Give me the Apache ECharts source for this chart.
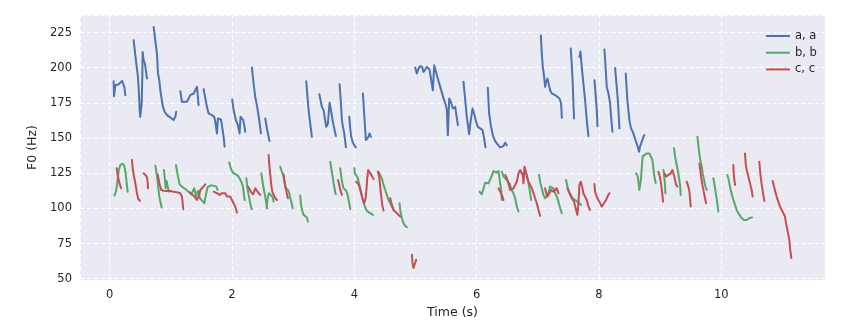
<!DOCTYPE html>
<html><head><meta charset="utf-8">
<script src="https://cdn.jsdelivr.net/npm/echarts@6/dist/echarts.min.js"></script>
<style>html,body{margin:0;padding:0;background:#fff}#c{width:844px;height:325px}</style>
</head><body><div id="c"></div>
<script>
// Speaker "a, a" pitch track segments: [time (s), F0 (Hz)]
const aSegs = [
[[0.065,190.4],[0.071,179.8],[0.093,187.6],[0.12,186.4],[0.148,188.3],[0.175,186.9],[0.202,190.7],[0.218,191.6],[0.24,186.4],[0.257,180.5]],
[[0.392,219.5],[0.436,203],[0.463,193.5],[0.479,181.7],[0.49,169.9],[0.5,165.1],[0.512,166.3],[0.523,174.6],[0.534,193.5],[0.539,211.2],[0.556,205.3],[0.577,203],[0.61,192.3]],
[[0.719,229],[0.746,219.5],[0.773,210],[0.79,195.9],[0.812,191.1],[0.828,184],[0.844,179.3],[0.871,172.2],[0.899,168.7],[0.937,166.3],[0.991,164.7],[1.02,163.9],[1.046,162.8],[1.057,161.6],[1.073,165.1],[1.089,168.7]],
[[1.155,183.3],[1.182,175.8],[1.209,174.6],[1.264,175.8],[1.318,180.5],[1.345,179.8],[1.373,181.7],[1.4,184],[1.427,186.4],[1.443,185.9],[1.454,173.4]],
[[1.536,184.8],[1.59,172.2],[1.618,167.5],[1.672,166.3],[1.71,165.1],[1.727,161.6],[1.754,153.3],[1.77,163.9],[1.797,162.8],[1.819,163.2],[1.835,159.2],[1.863,150.9],[1.879,143.9]],
[[2.004,177.4],[2.026,169.9],[2.064,162.8],[2.097,159.2],[2.124,153.3],[2.14,165.1],[2.162,166.3],[2.184,162.8],[2.2,159.2],[2.217,154.5]],
[[2.326,200.1],[2.353,188.8],[2.38,179.3],[2.407,173.4],[2.424,172.2],[2.446,162.8],[2.473,153.3]],
[[2.544,163.9],[2.571,156.9],[2.598,150.9],[2.614,147.9]],
[[3.214,190.4],[3.252,169.9],[3.306,150.9]],
[[3.427,181.2],[3.47,172.2],[3.497,169.9],[3.541,158],[3.568,160.4],[3.595,175.1],[3.623,168.7],[3.644,162.8],[3.66,159.2],[3.699,151.4]],
[[3.759,188.3],[3.781,174.6],[3.797,162.8],[3.814,158],[3.835,153.3],[3.852,147.4],[3.862,143.4]],
[[3.917,165.1],[3.933,156.9],[3.949,150.9],[3.971,147.4],[3.998,145],[4.025,143.4]],
[[4.14,181.7],[4.161,167.5],[4.189,148.6],[4.205,147.4],[4.232,150.9],[4.249,153.3],[4.271,150.9]],
[[4.995,200.1],[5.022,195.9],[5.049,199.4],[5.076,201.2],[5.109,200.6],[5.131,197],[5.158,198.7],[5.185,200.6],[5.229,198.7],[5.257,200.1],[5.284,184],[5.306,201.7],[5.35,194.7],[5.404,186.4],[5.459,178.2],[5.497,173.4],[5.513,169.9],[5.529,152.1],[5.551,178.2],[5.578,175.8],[5.611,171],[5.649,172.2],[5.676,171],[5.693,159.2]],
[[5.785,190],[5.839,165.1],[5.877,152.8],[5.904,162.8],[5.932,171],[5.959,167.5],[5.991,161.6],[6.019,158],[6.057,156.9],[6.095,155.7],[6.122,149.8],[6.144,143.4]],
[[6.182,185.7],[6.204,167.5],[6.231,159.2],[6.264,152.1],[6.302,147.9],[6.34,145.7],[6.384,143.4],[6.411,142],[6.438,144.3],[6.465,146.7],[6.492,145]],
[[7.05,223],[7.065,210],[7.081,200.6],[7.103,193.5],[7.12,186.4],[7.136,190],[7.158,192.3],[7.174,191.1],[7.201,184],[7.229,181.7],[7.256,180.5],[7.31,179.8],[7.354,178.1],[7.381,174.6],[7.392,164.4]],
[[7.538,213.6],[7.554,203],[7.571,188.8],[7.582,174.6],[7.593,163.9]],
[[7.68,207.7],[7.697,211.5],[7.718,200.6],[7.745,188.8],[7.773,176.9],[7.8,162.8],[7.828,151.4]],
[[7.926,191.1],[7.948,179.3],[7.964,169.9],[7.975,158.5]],
[[8.089,212.9],[8.111,198.2],[8.127,186.4],[8.155,181.7],[8.182,174.6],[8.198,165.1],[8.22,154.5]],
[[8.263,199.9],[8.29,186.4],[8.312,174.6],[8.334,156.9]],
[[8.437,195.9],[8.464,176.9],[8.497,162.8],[8.524,156.9],[8.552,154.5],[8.579,150.9],[8.606,147.4],[8.633,143.9],[8.655,140.3],[8.671,143.9],[8.699,147.4],[8.726,150.9],[8.742,152.1]]
];
// Speaker "b, b"
const bSegs = [
[[0.077,109.1],[0.104,111.9],[0.126,119],[0.148,127.3],[0.175,130.9],[0.213,131.8],[0.24,130.1],[0.262,125],[0.278,117.9],[0.295,111.9]],
[[0.747,130.4],[0.763,126.1],[0.779,121.4],[0.796,114.3],[0.812,108.4],[0.834,103.7],[0.85,100.6]],
[[0.888,127.3],[0.905,120.2],[0.915,114.3],[0.932,119.5],[0.948,115.5],[0.97,111.9]],
[[1.084,130.9],[1.117,122.7],[1.144,117.1],[1.182,115.5],[1.237,113.8],[1.291,111.9],[1.335,110],[1.362,109.1],[1.384,114.3],[1.411,108.4],[1.444,112.4],[1.477,107.2],[1.509,105.8],[1.547,103.7],[1.575,110],[1.602,115.2],[1.645,116.2],[1.684,116.2],[1.716,117.1],[1.743,115.5],[1.765,113.1]],
[[1.956,132.7],[1.972,129.6],[1.999,126.6],[2.027,124.9],[2.065,124.2],[2.109,122.6],[2.136,121.4],[2.163,117.9],[2.179,115.5],[2.196,109.6],[2.207,106]],
[[2.234,121.4],[2.25,115.5],[2.272,109.6],[2.293,104.8],[2.315,100.1],[2.326,99.5]],
[[2.479,124.9],[2.495,120.2],[2.517,114.3],[2.544,108.4],[2.56,103.7],[2.577,100.1]],
[[2.566,100.1],[2.582,107.2],[2.604,110.8],[2.632,111.5],[2.659,108.4],[2.681,104.8]],
[[2.789,129.6],[2.806,127.3],[2.827,126.1],[2.844,122.6],[2.86,117.9],[2.882,114.3],[2.898,115],[2.915,113.1],[2.937,110.8],[2.953,107.2],[2.975,103.7],[2.991,100.1]],
[[3.116,109.1],[3.126,103.7],[3.143,98.9],[3.171,95.4],[3.198,94.2],[3.225,93.5],[3.241,90.7]],
[[3.606,133.2],[3.623,128.5],[3.645,122.6],[3.661,117.9],[3.677,114.3],[3.688,110.8],[3.699,110.1]],
[[3.77,128.5],[3.786,122.6],[3.803,117.9],[3.824,114.3],[3.851,115.5],[3.868,112.5],[3.89,109.6],[3.906,106],[3.922,102.5],[3.933,99.6]],
[[4.0,128.5],[4.009,124.9],[4.031,126.1],[4.053,122.1],[4.075,117.9],[4.097,114.3],[4.118,110],[4.14,106],[4.162,102.5],[4.184,100.1],[4.206,98.2],[4.233,97.3],[4.26,96.6],[4.287,95.9],[4.304,95.4]],
[[4.396,126.1],[4.423,124.9],[4.45,121.2],[4.478,116.7],[4.505,113.1],[4.532,109.6],[4.559,106],[4.586,103.7],[4.614,101.3],[4.65,98.5]],
[[4.739,103.7],[4.75,98.9],[4.777,93],[4.804,89.5],[4.832,87.6],[4.859,86.6]],
[[6.046,111.9],[6.084,110],[6.139,118.3],[6.193,117.8],[6.248,123.1],[6.275,126.6],[6.319,125.4],[6.357,126.6],[6.384,126.1],[6.4,113.1],[6.411,106]],
[[6.411,126.1],[6.439,122.6],[6.493,120.2],[6.536,117.8],[6.574,113.1],[6.601,110.8],[6.629,107.2],[6.656,101.3],[6.683,97.8]],
[[6.82,124],[6.847,118],[6.874,111],[6.89,106]],
[[7.021,123.8],[7.037,119],[7.065,114.3],[7.092,109.6],[7.119,107.2],[7.147,106],[7.174,110.8],[7.201,115.5],[7.228,116.7],[7.256,114.3],[7.283,110.8],[7.31,108.4],[7.337,104.8],[7.365,100.1],[7.392,96.6]],
[[7.462,120.2],[7.484,115.5],[7.511,111.9],[7.539,109.6],[7.571,107.2],[7.609,106],[7.647,104.8],[7.68,103.7],[7.708,102.5]],
[[8.606,124.9],[8.634,122.6],[8.66,113.1],[8.677,114.3],[8.688,121.4],[8.699,129],[8.715,137],[8.737,138.4],[8.781,139.1],[8.824,139.1],[8.852,137.9],[8.874,134.4],[8.89,128.5],[8.901,123.8],[8.917,120.2],[8.928,118]],
[[9.053,127.3],[9.064,123.8],[9.075,119],[9.086,110.8]],
[[9.227,142.7],[9.244,136.8],[9.26,133.2],[9.276,129.7],[9.287,127.3],[9.309,121.4],[9.325,116.7],[9.336,109.6]],
[[9.61,151],[9.625,145],[9.636,140.3],[9.652,135.6],[9.68,129.7],[9.696,124.9],[9.718,120.2],[9.74,115.5],[9.762,113.1]],
[[9.869,121.4],[9.885,117.8],[9.902,113.1],[9.918,108.4],[9.935,103.7],[9.951,97.8]],
[[10.098,123.8],[10.115,121.4],[10.131,117.8],[10.153,113.1],[10.175,109.6],[10.197,106],[10.224,102.5],[10.251,98.9],[10.279,96.6],[10.306,94.9],[10.333,93],[10.372,91.8],[10.415,91.8],[10.453,93],[10.481,94.2],[10.503,93.5]]
];
// Speaker "c, c"
const cSegs = [
[[0.115,128.5],[0.131,123.8],[0.148,120.2],[0.169,116.7],[0.186,114.3]],
[[0.365,134.4],[0.376,128.5],[0.398,122.6],[0.42,117.9],[0.442,111.9],[0.463,107.2],[0.496,105.3]],
[[0.556,125],[0.583,124.3],[0.605,122.7],[0.621,119],[0.627,114.3]],
[[0.785,124.2],[0.818,116.7],[0.845,113.1],[0.883,112.6],[0.937,112.4],[0.992,112.4],[1.046,111.9],[1.1,111.5],[1.155,110.8],[1.182,108.4],[1.204,99.4]],
[[1.308,111.5],[1.357,109.6],[1.4,107.7],[1.428,106],[1.466,109.6],[1.482,113.1],[1.509,114.3],[1.547,116.2],[1.564,117.1]],
[[1.699,111.9],[1.754,110.8],[1.797,109.6],[1.835,110.8],[1.89,110.8],[1.917,108.4],[1.944,109.6],[1.972,108.4],[1.999,106],[2.026,107.2],[2.053,101.3],[2.081,97]],
[[2.261,115.5],[2.288,113.6],[2.315,111.5],[2.345,110],[2.381,114.3],[2.408,113.1],[2.435,110.8],[2.463,109.6]],
[[2.599,137.9],[2.61,130.9],[2.626,123.8],[2.642,116.7],[2.659,111.9],[2.681,109.6],[2.708,107.2],[2.735,106]],
[[2.844,124.2],[2.855,120.2],[2.871,115.5],[2.887,113.1],[2.9,109.5],[2.914,107.2]],
[[3.731,120.2],[3.748,117.9],[3.764,114.3],[3.781,111.9],[3.797,109.6]],
[[4.031,119],[4.053,118.6],[4.075,116.7],[4.097,113.1],[4.118,109.6],[4.14,106],[4.162,103.7],[4.184,107.2],[4.2,114.3],[4.211,121.4],[4.227,127.3],[4.249,126.1],[4.271,124.2],[4.293,122.6],[4.315,120.9]],
[[4.385,126.1],[4.407,122.6],[4.423,115.5],[4.44,108.4],[4.461,101.3],[4.478,98.5]],
[[4.586,107.3],[4.614,102.5],[4.641,98.8],[4.668,97.8],[4.696,96.6],[4.723,96.1],[4.75,94.2]],
[[4.941,67],[4.952,61.1],[4.968,57.6],[4.99,60.7],[5.011,63.5]],
[[6.357,114.3],[6.384,113.1],[6.411,109.6],[6.439,106]],
[[6.466,123.8],[6.493,121.4],[6.52,117.8],[6.547,113.1],[6.574,111.9],[6.601,114.3],[6.629,115.5],[6.656,119],[6.683,124.9],[6.711,127.3],[6.738,128.5],[6.754,123.8],[6.765,117.8],[6.782,129.7],[6.798,127.3],[6.82,122.6],[6.847,119],[6.874,116.7],[6.901,114.3],[6.929,110.8],[6.956,107.2],[6.983,103.7],[7.01,99],[7.037,94.7]],
[[7.119,114.3],[7.136,110.8],[7.157,108.4],[7.19,110.8],[7.217,113.1],[7.256,111.9],[7.283,113.1],[7.31,114.3],[7.337,110.8]],
[[7.484,114.3],[7.517,110.8],[7.555,107.2],[7.593,104.8],[7.626,98.9],[7.648,95.4],[7.664,103.7],[7.68,116.7],[7.702,119],[7.724,115.5],[7.745,110.8],[7.773,109.6],[7.8,106],[7.827,101.3],[7.855,98.9]],
[[7.925,117.4],[7.936,111.9],[7.953,109.6],[7.975,107.2],[8.007,104.8],[8.045,101.3],[8.072,102.5],[8.116,106],[8.143,108.8],[8.17,110.8]],
[[8.971,126.1],[8.988,123.8],[9.009,119],[9.025,114.3],[9.036,109.6],[9.047,104.8]],
[[9.069,124.9],[9.096,122.6],[9.134,123.8],[9.173,124.9],[9.2,127.3],[9.216,126.1],[9.232,122.6],[9.26,116.7],[9.281,115.5]],
[[9.434,119],[9.461,115.5],[9.478,111.9],[9.489,107.2],[9.5,101.3]],
[[9.641,132],[9.652,128.5],[9.669,122.6],[9.691,116.7],[9.712,111.9],[9.734,107.2],[9.751,103.7]],
[[10.197,130.9],[10.202,124.9],[10.213,120.2],[10.224,116.7]],
[[10.387,139.1],[10.398,132],[10.415,127.3],[10.442,122.6],[10.469,117.8],[10.496,113.1],[10.513,108.4]],
[[10.621,133.2],[10.632,127.3],[10.649,120.2],[10.671,114.3],[10.687,109.6],[10.704,105.3]],
[[10.839,119.5],[10.861,115.5],[10.883,111.9],[10.904,108.4],[10.932,104.8],[10.959,101.3],[10.987,98.9],[11.014,96.6],[11.041,94.2],[11.057,89.5],[11.079,84.8],[11.096,81.2],[11.112,77.7],[11.123,71.8],[11.134,68.2],[11.145,64.7]]
];
const seriesNames = ['a, a', 'b, b', 'c, c'];
const seriesColors = ['#4C72B0', '#55A868', '#C44E52'];
const xRange = [-0.485, 11.695];
const yRange = [49.1, 237.5];

const chart = echarts.init(document.getElementById('c'), null, {renderer: 'canvas'});
const series = [];
[aSegs, bSegs, cSegs].forEach((segs, i) => {
  segs.forEach(seg => {
    series.push({
      type: 'line', name: seriesNames[i], data: seg,
      symbol: 'none', showSymbol: false, silent: true,
      lineStyle: {color: seriesColors[i], width: 2, cap: 'round', join: 'round'},
      itemStyle: {color: seriesColors[i]},
      z: 2 + i
    });
  });
});
const txt = '#262626';
const font = 'DejaVu Sans';
chart.setOption({
  animation: false,
  backgroundColor: '#ffffff',
  grid: {left: 80, top: 15, width: 745, height: 265, show: true, backgroundColor: '#EAEAF2', borderWidth: 0},
  legend: {
    data: seriesNames.map((n, i) => ({name: n, itemStyle: {color: seriesColors[i]}})),
    orient: 'vertical', left: 761, top: 25, icon: 'rect', itemWidth: 24, itemHeight: 2,
    itemGap: 4.7, selectedMode: false,
    textStyle: {fontFamily: font, fontSize: 11.5, color: txt, lineHeight: 12}
  },
  xAxis: {
    type: 'value', min: xRange[0], max: xRange[1], minInterval: 2, maxInterval: 2,
    name: 'Time (s)', nameLocation: 'middle', nameGap: 25,
    nameTextStyle: {fontFamily: font, fontSize: 12.5, color: txt},
    axisLine: {show: false}, axisTick: {show: false},
    axisLabel: {fontFamily: font, fontSize: 11.5, color: txt, margin: 9, showMinLabel: false, showMaxLabel: false},
    splitLine: {show: true, lineStyle: {color: '#ffffff', type: [4, 3], width: 1}}
  },
  yAxis: {
    type: 'value', min: yRange[0], max: yRange[1], minInterval: 25, maxInterval: 25,
    name: 'F0 (Hz)', nameLocation: 'middle', nameGap: 41, nameRotate: 90,
    nameTextStyle: {fontFamily: font, fontSize: 12.5, color: txt},
    axisLine: {show: false}, axisTick: {show: false},
    axisLabel: {fontFamily: font, fontSize: 11.5, color: txt, margin: 8, showMinLabel: false, showMaxLabel: false},
    splitLine: {show: true, lineStyle: {color: '#ffffff', type: [4, 3], width: 1}}
  },
  series: series
});
</script></body></html>
